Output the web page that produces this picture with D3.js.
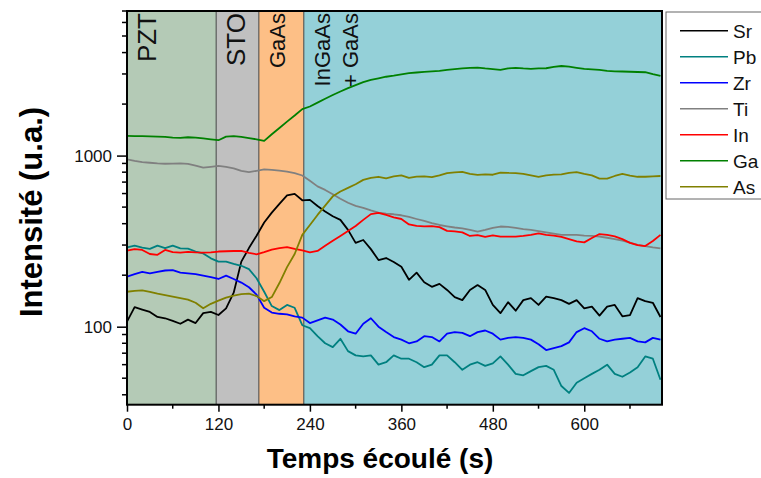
<!DOCTYPE html>
<html><head><meta charset="utf-8">
<script src="https://cdn.jsdelivr.net/npm/d3@7/dist/d3.min.js"></script>
<style>
body{margin:0;background:#fff}
text{font-family:Arial,"Liberation Sans",sans-serif}
</style>
</head><body>
<svg id="chart" width="761" height="478"></svg>
<script>
// ---- data ----
const time = [0,10,20,30,40,50,60,70,80,90,100,110,120,130,140,150,160,170,180,190,200,210,220,230,240,250,260,270,280,290,300,310,320,330,340,350,360,370,380,390,400,410,420,430,440,450,460,470,480,490,500,510,520,530,540,550,560,570,580,590,600,610,620,630,640,650,660,670,680,690,700];
const seriesNames = ["Sr","Pb","Zr","Ti","In","Ga","As"];
const srValues = [107,130,126,122,114,112,108,104,110,105, 120,122,117,128,158,240,288,340,406,464, 522,585,597,548,551,507,471,442,421,368, 309,321,284,245,252,239,224,188,207,182, 171,178,164,149,143,164,175,164,134,120, 139,124,143,147,134,150,147,143,136,143, 128,131,116,131,134,115,117,147,141,138, 114];
const pbValues = [291,298,290,285,298,288,298,287,286,275, 268,251,240,240,233,227,217,192,160,132, 125,134,129,102,98,88,80,76,85,72, 68,67,68,60,62,68,65,65,62,58, 60,68,68,62,56,60,62,59,61,67, 60,53,52,55,58,59,56,45,41,47, 50,53,56,60,53,51,54,58,67,65, 49];
const zrValues = [196,203,209,205,209,213,214,207,205,203, 199,195,190,199,190,181,170,154,129,121, 119,118,115,113,105,109,113,110,103,94, 91,104,112,100,93,87,84,80,82,88, 87,82,91,93,92,88,93,95,91,84, 86,87,86,84,79,73,75,77,81,93, 98,94,85,82,84,85,86,82,81,86, 84];
const tiValues = [950,930,915,908,900,896,898,900,895,875, 850,860,871,860,843,815,800,815,830,825, 817,805,790,765,712,661,630,595,560,530, 508,495,478,464,458,454,448,438,426,415, 403,393,386,380,375,368,360,368,378,385, 383,378,372,368,362,356,350,344,344,344, 341,339,336,331,325,318,310,301,296,291, 287];
const inValues = [278,284,281,266,263,281,273,271,274,272, 271,272,275,276,277,277,270,265,273,282, 288,292,285,279,272,277,297,318,339,362, 388,421,455,463,450,436,426,396,388,386, 387,382,363,361,356,339,343,335,342,336, 336,336,339,344,351,344,341,335,325,315, 311,330,348,344,337,325,309,300,296,317, 344];
const gaValues = [1303,1300,1300,1295,1290,1285,1275,1270,1280,1275, 1260,1245,1230,1290,1300,1285,1265,1245,1220,1333, 1450,1580,1715,1870,1936,2040,2150,2260,2370,2480, 2580,2690,2770,2830,2890,2930,2980,3030,3060,3085, 3110,3130,3170,3200,3230,3260,3270,3230,3200,3170, 3230,3260,3230,3210,3230,3240,3300,3340,3310,3260, 3210,3190,3170,3130,3110,3100,3090,3080,3070,2990, 2925];
const asValues = [160,162,163,160,156,153,150,147,144,138, 128,136,142,148,152,155,156,151,141,149, 180,223,266,344,393,450,510,578,617,648, 680,721,740,752,737,755,767,741,753,756, 748,766,789,798,803,781,771,776,773,796, 792,790,782,766,752,766,773,777,792,800, 781,766,734,733,760,781,763,752,752,757, 760];
const phaseStarts = [0,117,173,232];
const phaseEnds = [117,173,232,702];
const phaseLabels = [["PZT"],["STO"],["GaAs"],["InGaAs","+ GaAs"]];
const xTickValues = [0,120,240,360,480,600];
const xMinorTicks = [60,180,300,420,540,660];
const yTickValues = [100,1000];

// ---- styles ----
const seriesColors = ["#000000","#008080","#0000ff","#808080","#ff0000","#008000","#808000"];
const phaseColors = ["#b4cab6","#c0c0c0","#fdbf86","#94d0d8"];
const phaseFont = [26,26,22,22];

const allValues = [srValues,pbValues,zrValues,tiValues,inValues,gaValues,asValues];

const svg = d3.select("#chart");
const L = 127, R = 662, T = 11, B = 404.7;
const x = d3.scaleLinear().domain([0,702]).range([L,R]);
const y = d3.scaleLog().domain([35,7000]).range([B,T]);

// phase bands
svg.append("g").selectAll("rect").data(phaseStarts).join("rect")
  .attr("x",(d)=>x(d)).attr("y",T)
  .attr("width",(d,i)=>x(phaseEnds[i])-x(d)).attr("height",B-T)
  .attr("fill",(d,i)=>phaseColors[i]);
svg.append("g").selectAll("line").data(phaseStarts.slice(1)).join("line")
  .attr("x1",d=>x(d)).attr("x2",d=>x(d)).attr("y1",T).attr("y2",B)
  .attr("stroke","#444").attr("stroke-width",1);

// phase labels
phaseLabels.forEach((lines,i)=>{
  lines.forEach((txt,j)=>{
    svg.append("text")
      .attr("transform",`translate(${x(phaseStarts[i])+ (i<2?29:26) + j*28},13) rotate(-90)`)
      .attr("text-anchor","end")
      .attr("font-size",phaseFont[i]+"px")
      .attr("fill","#111")
      .text(txt);
  });
});

// lines
svg.append("clipPath").attr("id","clip").append("rect")
  .attr("x",L).attr("y",T).attr("width",R-L).attr("height",B-T);
const lineGen = d3.line().x((d,i)=>x(time[i])).y(d=>y(d));
const lg = svg.append("g").attr("clip-path","url(#clip)");
allValues.forEach((vals,k)=>{
  lg.append("path").datum(vals).attr("d",lineGen)
    .attr("fill","none").attr("stroke",seriesColors[k]).attr("stroke-width",1.8)
    .attr("stroke-linejoin","round");
});

// frame
svg.append("rect").attr("x",L).attr("y",T).attr("width",R-L).attr("height",B-T)
  .attr("fill","none").attr("stroke","#000").attr("stroke-width",2);

// x axis
const xAxis = svg.append("g").attr("transform",`translate(0,${B})`)
  .call(d3.axisBottom(x).tickValues(xTickValues).tickSize(7).tickPadding(4).tickFormat(d3.format("d")));
xAxis.select(".domain").remove();
xAxis.selectAll("line").attr("stroke","#000").attr("stroke-width",1.5);
xAxis.selectAll("text").attr("font-size","17px").attr("fill","#111").attr("dy","0.82em")
  .attr("font-family",'Arial,"Liberation Sans",sans-serif');
svg.append("g").selectAll("line").data(xMinorTicks).join("line")
  .attr("x1",d=>x(d)).attr("x2",d=>x(d)).attr("y1",B).attr("y2",B+4)
  .attr("stroke","#000").attr("stroke-width",1.5);

// y axis
const yAxis = svg.append("g").attr("transform",`translate(${L},0)`)
  .call(d3.axisLeft(y).tickValues(yTickValues).tickSize(10).tickPadding(5).tickFormat(d3.format("d")));
yAxis.select(".domain").remove();
yAxis.selectAll("line").attr("stroke","#000").attr("stroke-width",1.5);
yAxis.selectAll("text").attr("font-size","17px").attr("fill","#111")
  .attr("font-family",'Arial,"Liberation Sans",sans-serif');
const yMinor = y.ticks().filter(v=>yTickValues.indexOf(v)<0 && v>=35 && v<=7000);
svg.append("g").selectAll("line").data(yMinor).join("line")
  .attr("x1",L-5).attr("x2",L).attr("y1",d=>y(d)).attr("y2",d=>y(d))
  .attr("stroke","#000").attr("stroke-width",1.5);

// axis titles
svg.append("text").attr("x",380).attr("y",468).attr("text-anchor","middle")
  .attr("font-size","28px").attr("font-weight","bold").text("Temps écoulé (s)");
svg.append("text").attr("transform","translate(42,212) rotate(-90)").attr("text-anchor","middle")
  .attr("font-size","31px").attr("font-weight","bold").text("Intensité (u.a.)");

// legend
const leg = svg.append("g");
leg.append("rect").attr("x",666).attr("y",12).attr("width",120).attr("height",187)
  .attr("fill","#fff").attr("stroke","#666").attr("stroke-width",1);
seriesNames.forEach((name,i)=>{
  const ly = 30.7 + i*26;
  leg.append("line").attr("x1",680).attr("x2",728).attr("y1",ly).attr("y2",ly)
    .attr("stroke",seriesColors[i]).attr("stroke-width",1.6);
  leg.append("text").attr("x",733).attr("y",ly).attr("dy","0.36em")
    .attr("font-size","19px").attr("fill","#111").text(name);
});
</script>
</body></html>
